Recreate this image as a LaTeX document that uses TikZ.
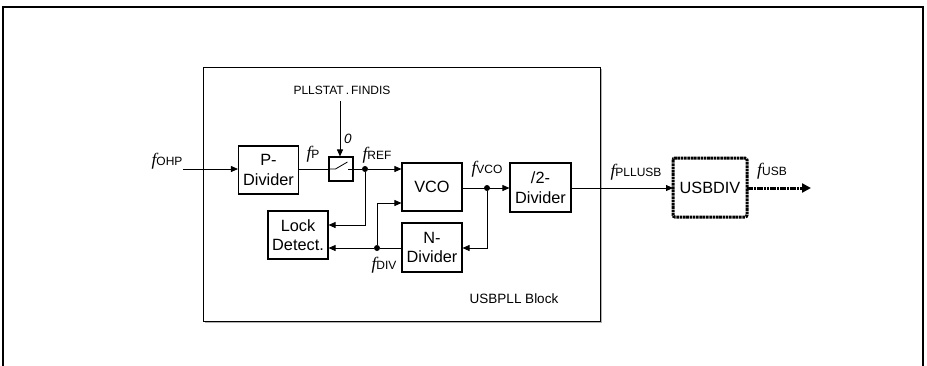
\documentclass[tikz,border=0pt]{standalone}
\usepackage{fontspec}
\setmainfont{Liberation Sans}
\newfontfamily\fserif{Liberation Serif}
\usetikzlibrary{arrows.meta}
\newcommand\fsig[1]{{\fontsize{17.5}{17.5}\selectfont\fserif\itshape f}\raisebox{-0.3pt}{\fontsize{12}{12}\selectfont #1}}
\begin{document}
\begin{tikzpicture}[x=1pt,y=-1pt,
  blk/.style={draw,line width=1.1pt,minimum width=60pt,minimum height=48pt,inner sep=0pt,align=center,font=\fontsize{16.3}{19.5}\selectfont},
  conn/.style={line width=0.8pt},
  arr/.style={conn,-{Triangle[length=7pt,width=6pt]}},
  dot/.style={circle,fill,inner sep=0pt,minimum size=6pt},
  thickdash/.style={line width=3pt,dash pattern=on 2.6pt off 0.7pt},
  lbl/.style={inner sep=0pt}]
\useasboundingbox (0,0) rectangle (927,365);
% outer frame
\draw[line width=2pt] (3,366) -- (3,7) -- (923,7) -- (923,366);
% USBPLL block with faint shadow
\draw[line width=1.5pt,gray!60] (204.5,322.5) -- (601.5,322.5) -- (601.5,68.5);
\draw[line width=1pt] (203,67) rectangle (600,321);
\node[lbl,font=\fontsize{13.5}{14}\selectfont] (blklbl) at (514,299) {USBPLL Block};
% blocks
\node[blk] (pdiv) at (268.5,170) {P-\\Divider};
\node[blk] (lock) at (298,235) {Lock\\Detect.};
\node[blk,minimum height=48pt] (vco) at (432,187) {VCO};
\node[blk,minimum height=49pt] (ndiv) at (432,247.5) {N-\\Divider};
\node[blk,minimum width=61pt,minimum height=49pt] (div2) at (540.5,187.5) {/2-\\Divider};
\node[blk,minimum width=74pt,minimum height=59pt,draw=none] (usbdiv) at (710,187.5) {USBDIV};
\draw[thickdash,rounded corners=2pt] (673,158) rectangle (747,217);
% switch
\node[draw,line width=1.1pt,minimum width=24pt,minimum height=24pt,inner sep=0pt] (sw) at (341,169) {};
\draw[conn] (sw.west) -- ++(7,0) -- ++(12,-7);
\draw[conn] (sw.east) -- ++(-6,0);
% labels
\node[lbl,font=\fontsize{12}{12}\selectfont] (pll) at (342,90) {PLLSTAT\,.\,FINDIS};
\node[lbl,font=\fontsize{13.5}{13.5}\selectfont\itshape] (zero) at (348,139) {0};
\node[lbl] (fohp) at (167,161) {\fsig{OHP}};
\node[lbl] (fp) at (313,154) {\fsig{P}};
\node[lbl] (fref) at (377,155) {\fsig{REF}};
\node[lbl] (fvco) at (487,169) {\fsig{VCO}};
\node[lbl] (fdiv) at (384,265) {\fsig{DIV}};
\node[lbl] (fpll) at (636,172) {\fsig{PLLUSB}};
\node[lbl] (fusb) at (772,171) {\fsig{USB}};
% coordinates
\coordinate (in) at (183,169);
\coordinate (pllsrc) at (340,101);
\node[dot] (dref) at (365,169) {};
\node[dot] (dvco) at (487,188) {};
\node[dot] (ddiv) at (377,248) {};
\coordinate (out) at (811,188);
% connectors
\draw[arr] (in) -- (pdiv.west |- in);
\draw[arr] (pllsrc) -- (sw.north -| pllsrc);
\draw[conn] (pdiv.east |- sw.west) -- (sw.west);
\draw[conn] (sw.east) -- (dref);
\draw[arr] (dref) -- (vco.west |- dref);
\draw[arr] (dref) |- (lock.east |- 0,225);
\draw[arr] (vco.east |- dvco) -- (div2.west |- dvco);
\draw[arr] (dvco) |- (ndiv.east |- 0,248);
\draw[conn] (ndiv.west |- ddiv) -- (ddiv);
\draw[arr] (ddiv) -- (lock.east |- ddiv);
\draw[arr] (ddiv) |- (vco.west |- 0,203);
\draw[arr] (div2.east |- 0,188) -- (673,188);
\draw[thickdash,-{Triangle[length=9pt,width=9pt]}] (747,188) -- (out);
\end{tikzpicture}
\end{document}
